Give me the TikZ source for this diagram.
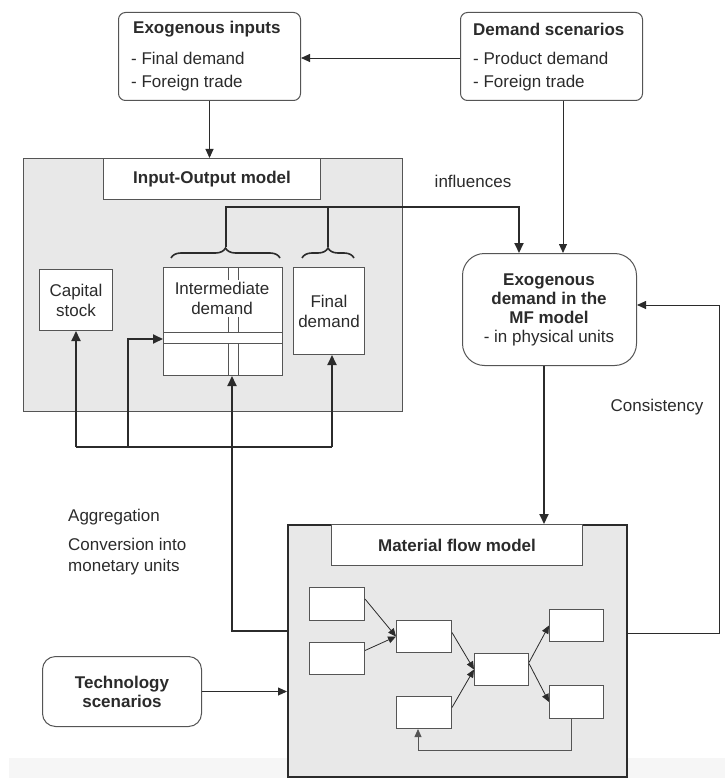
\documentclass[tikz,border=0pt]{standalone}
\usepackage{fontspec}
\setmainfont{Liberation Sans}
\usetikzlibrary{arrows.meta,decorations.pathreplacing,calc}
\definecolor{ink}{HTML}{2B2B2B}
\definecolor{edge}{HTML}{555555}
\definecolor{panel}{HTML}{E8E8E8}
\definecolor{strip}{HTML}{F6F6F6}
\begin{document}
\begin{tikzpicture}[x=1pt,y=-1pt,
  box/.style={draw=edge, line width=1pt, fill=white, inner sep=0pt, anchor=north west, text=ink,
              font=\fontsize{17}{20}\selectfont},
  rbox/.style={box, rounded corners=#1},
  panelbox/.style={draw=#1, fill=panel, inner sep=0pt, anchor=north west},
  txt/.style={inner sep=0pt, text=ink, font=\fontsize{17}{20}\selectfont},
  btxt/.style={inner sep=0pt, text=ink, font=\fontsize{17}{20}\selectfont\bfseries},
  thinarrow/.style={draw=ink, line width=0.9pt, -{Triangle[length=9pt,width=8pt]}},
  thickarrow/.style={draw=ink, line width=1.8pt, -{Triangle[length=10pt,width=9pt]}},
  thickline/.style={draw=ink, line width=1.8pt},
  innerarrow/.style={draw=ink, line width=0.8pt, -{Triangle[length=8pt,width=7pt]}},
  bracestyle/.style={draw=ink, line width=1.6pt, decorate, decoration={brace, amplitude=10pt}},
]
\useasboundingbox (0,0) rectangle (725,778);
\fill[strip] (9,758) rectangle (725,778);

% top boxes
\node[rbox=7pt, minimum width=182pt, minimum height=88pt] (exo) at (118,12) {};
\node[btxt, anchor=west] (exoT) at (133,29) {Exogenous inputs};
\node[txt, anchor=west] (exo1) at (131,58) {- Final demand};
\node[txt, anchor=west] (exo2) at (131,83) {- Foreign trade};

\node[rbox=7pt, minimum width=182pt, minimum height=88pt] (dem) at (460,12) {};
\node[btxt, anchor=west] (demT) at (473,29) {Demand scenarios};
\node[txt, anchor=west] (dem1) at (473,58) {- Product demand};
\node[txt, anchor=west] (dem2) at (473,83) {- Foreign trade};

% Input-Output model
\node[panelbox=edge, line width=1pt, minimum width=379pt, minimum height=253pt] (io) at (23,158) {};
\node[box, minimum width=217pt, minimum height=41pt, font=\fontsize{17}{20}\selectfont\bfseries] (ioh) at (103,158) {Input-Output model};

\node[box, minimum width=73pt, minimum height=61pt, align=center] (cap) at (39,269) {Capital\\stock};
\node[box, minimum width=119pt, minimum height=108pt] (inter) at (163,267) {};
\draw[edge, line width=1pt] (228,267) -- (228,375) (238,267) -- (238,375);
\node[txt, fill=white, align=center, inner sep=2pt] (interT) at (222,298.5) {Intermediate\\demand};
\node[box, minimum width=119pt, minimum height=11pt] (band) at (163,332) {};
\node[box, minimum width=71pt, minimum height=87pt, align=center] (fin) at (293,267) {Final\\demand};

% braces
\coordinate (br1a) at (171,258);
\coordinate (br1b) at (280,258);
\coordinate (br2a) at (302,258);
\coordinate (br2b) at (354,258);
\draw[bracestyle] (br1a) -- (br1b);
\draw[bracestyle] (br2a) -- (br2b);

% Exogenous demand in MF model
\node[rbox=22pt, minimum width=174pt, minimum height=112pt] (exd) at (462,253) {};
\node[txt, align=center, font=\fontsize{17}{19}\selectfont] (exdT) at (549,309.5)
  {\textbf{Exogenous}\\\textbf{demand in the}\\\textbf{MF model}\\- in physical units};

% Material flow model
\node[panelbox=ink, line width=1.5pt, minimum width=339pt, minimum height=252pt] (mf) at (287,524) {};
\node[box, minimum width=251pt, minimum height=41pt, font=\fontsize{17}{20}\selectfont\bfseries] (mfh) at (331,524) {Material flow model};

\node[box, minimum width=55pt, minimum height=33pt] (b1) at (309,587) {};
\node[box, minimum width=55pt, minimum height=32pt] (b2) at (309,642) {};
\node[box, minimum width=55pt, minimum height=32pt] (b3) at (396,620) {};
\node[box, minimum width=55pt, minimum height=32pt] (b4) at (396,696) {};
\node[box, minimum width=54pt, minimum height=32pt] (b5) at (474,653) {};
\node[box, minimum width=54pt, minimum height=32pt] (b6) at (549,609) {};
\node[box, minimum width=54pt, minimum height=33pt] (b7) at (549,685) {};

% Technology scenarios
\node[rbox=13pt, minimum width=159pt, minimum height=70pt, align=center,
      font=\fontsize{17}{19}\selectfont\bfseries] (tech) at (42,656) {Technology\\scenarios};

% labels
\node[txt] (infl) at (473,181) {influences};
\node[txt] (cons) at (657,407) {Consistency};
\node[txt, anchor=west] (agg1) at (68,517) {Aggregation};
\node[txt, anchor=west] (agg2) at (68,544) {Conversion into};
\node[txt, anchor=west] (agg3) at (68,567) {monetary units};

% connectors: top
\draw[thinarrow] (dem.west |- exo1) -- (exo.east |- exo1);
\draw[thinarrow] (exo.south) -- (exo.south |- io.north);
\coordinate (dx) at (563,0);
\draw[thinarrow] (dem.south -| dx) -- (exd.north -| dx);

% influences
\coordinate (t1) at (226,247);
\coordinate (t2) at (328,247);
\coordinate (r1) at (226,207);
\coordinate (r2) at (519,207);
\draw[thickline] (t2) -- (t2 |- r1);
\draw[thickarrow] (t1) -- (r1) -- (r2) -- (r2 |- exd.north);

% bottom network
\coordinate (j1) at (232,631);
\coordinate (hL) at (76,447);
\coordinate (hR) at (332,447);
\coordinate (hM) at (128,447);
\coordinate (hMt) at (128,339);
\draw[thickarrow] (mf.west |- j1) -- (j1) -- (j1 |- inter.south);
\draw[thickline] (hL) -- (hR);
\draw[thickarrow] (hL) -- (hL |- cap.south);
\draw[thickarrow] (hR) -- (hR |- fin.south);
\draw[thickarrow] (hM) -- (hMt) -- (inter.west |- hMt);

% exd to mf
\coordinate (ex) at (544,0);
\draw[thickarrow] (exd.south -| ex) -- (mf.north -| ex);

% consistency
\coordinate (c1) at (719,633);
\coordinate (c2) at (719,305);
\draw[thinarrow] (mf.east |- c1) -- (c1) -- (c2) -- (exd.east |- c2);

% technology
\draw[thinarrow] (tech.east) -- (mf.west |- tech.east);

% inner MF arrows
\draw[innerarrow] ($(b1.east)+(0,-5)$) -- (b3.west);
\draw[innerarrow] ($(b2.east)+(0,-8)$) -- (b3.west);
\draw[innerarrow] ($(b3.east)+(0,-4)$) -- (b5.west);
\draw[innerarrow] ($(b4.east)+(0,-5)$) -- (b5.west);
\draw[innerarrow] ($(b5.east)+(0,-7)$) -- (b6.west);
\draw[innerarrow] ($(b5.east)+(0,-6)$) -- (b7.west);
\coordinate (fb1) at (571,750);
\coordinate (fb2) at (418,750);
\draw[innerarrow, draw=edge] (fb1 |- b7.south) -- (fb1) -- (fb2) -- (fb2 |- b4.south);
\end{tikzpicture}
\end{document}
